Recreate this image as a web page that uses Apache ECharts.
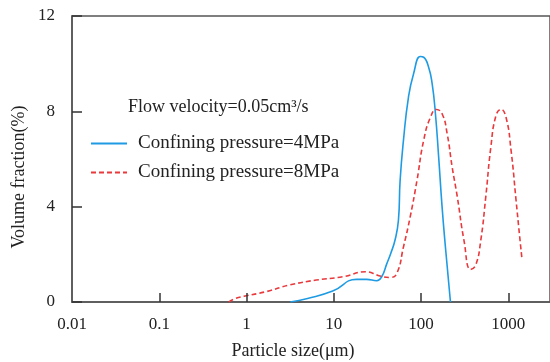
<!DOCTYPE html>
<html>
<head>
<meta charset="utf-8">
<script src="https://cdn.jsdelivr.net/npm/echarts@6/dist/echarts.min.js"></script>
<style>
html,body{margin:0;padding:0;background:#fff;}
#c{width:550px;height:362px;}
</style>
</head>
<body>
<div id="c"></div>
<script>
// Particle size (µm) and volume fraction (%)
const blueX = [3.17, 5, 9.7, 18.2, 23.7, 31.0, 35.4, 40.4, 45, 50.3, 55.0, 57.5, 62.8, 71.7, 81.9, 98, 107, 122, 134, 146, 159, 174, 190, 217];
const blueY = [0, 0.15, 0.46, 0.95, 0.95, 0.89, 1.06, 1.6, 2.05, 2.6, 3.43, 5.1, 6.78, 8.6, 9.57, 10.3, 10.27, 9.85, 9.15, 7.9, 6.08, 3.99, 2.31, 0];
const redX = [0.627, 0.748, 0.933, 1.66, 3.09, 6.28, 12.7, 23.7, 28.3, 33.8, 44.1, 52.7, 62.8, 75.0, 89.7, 107, 128, 150, 174, 199, 227, 260, 310, 370, 423, 483, 551, 630, 721, 822, 940, 1074, 1225, 1337, 1436];
const redY = [0, 0.15, 0.24, 0.43, 0.71, 0.92, 1.06, 1.27, 1.2, 1.09, 1.03, 1.2, 2.31, 3.57, 5.1, 6.78, 7.75, 8.08, 7.9, 7.06, 5.66, 4.41, 2.59, 1.37, 1.55, 2.59, 4.41, 6.5, 7.82, 8.08, 7.75, 6.36, 4.27, 2.87, 1.76];
const xTicks = [0.01, 0.1, 1, 10, 100, 1000];
const yTicks = [0, 4, 8, 12];
const seriesNames = ['Confining pressure=4MPa', 'Confining pressure=8MPa'];
const titleText = 'Flow velocity=0.05cm\u00B3/s';
const xName = 'Particle size(\u03BCm)';
const yName = 'Volume fraction(%)';

const FONT = '"Liberation Serif", "Times New Roman", serif';
const AX = '#555';
const X_MAX = 3000;
const GRID = {left: 72, right: -2, top: 16, bottom: 60};
const PLOT_H = 362 - GRID.top - GRID.bottom;
const Y_MIN = yTicks[0], Y_MAX = yTicks[yTicks.length - 1];
// x tick marks (pointing up, 9px long), expressed in y-axis units
const TICK_LEN = 9 * (Y_MAX - Y_MIN) / PLOT_H;

function isTick(v) {
  return xTicks.some(t => Math.abs(Math.log10(v) - Math.log10(t)) < 1e-6);
}
const chart = echarts.init(document.getElementById('c'), null, {renderer: 'canvas'});
chart.setOption({
  animation: false,
  backgroundColor: '#fff',
  grid: Object.assign({
    show: true, borderColor: AX, borderWidth: 1.5, backgroundColor: 'rgba(0,0,0,0)'
  }, GRID),
  title: {
    text: titleText, left: 128, top: 98, padding: 0,
    textStyle: {fontFamily: FONT, fontSize: 18, fontWeight: 'normal', color: '#222'}
  },
  legend: {
    orient: 'vertical', left: 90, top: 134, padding: 0,
    itemWidth: 36, itemHeight: 14, itemGap: 10,
    itemStyle: {opacity: 0, borderWidth: 0},
    textStyle: {fontFamily: FONT, fontSize: 19, color: '#222', lineHeight: 18, padding: [0, 0, 0, 6]},
    data: seriesNames
  },
  xAxis: {
    type: 'log', min: xTicks[0], max: X_MAX,
    axisLine: {show: true, lineStyle: {color: AX, width: 1.5}},
    axisTick: {show: false},
    axisLabel: {
      show: true, margin: 14, fontFamily: FONT, fontSize: 17, color: '#222',
      showMinLabel: true, showMaxLabel: false,
      formatter: function (v) { return isTick(v) ? String(Number(v.toPrecision(6))) : ''; }
    },
    splitLine: {show: false}
  },
  yAxis: {
    type: 'value', min: Y_MIN, max: Y_MAX, interval: 4,
    axisLine: {show: true, lineStyle: {color: AX, width: 1.5}},
    axisTick: {show: true, inside: true, length: 10, lineStyle: {color: '#333', width: 1.5}},
    axisLabel: {margin: 17, fontFamily: FONT, fontSize: 17, color: '#222'},
    splitLine: {show: false}
  },
  graphic: [
    {type: 'text', x: 19, y: 177, rotation: Math.PI / 2,
     style: {text: yName, fontFamily: FONT, fontSize: 18, fill: '#222', align: 'center', verticalAlign: 'middle'}},
    {type: 'text', x: 293, y: 351,
     style: {text: xName, fontFamily: FONT, fontSize: 18, fill: '#222', align: 'center', verticalAlign: 'middle'}}
  ],
  series: [{
    name: seriesNames[0], type: 'line', symbol: 'none', smooth: 0.5,
    lineStyle: {color: '#1f9be3', width: 1.6},
    itemStyle: {color: '#1f9be3'},
    data: blueX.map((x, i) => [x, blueY[i]]),
    markLine: {
      silent: true, symbol: ['none', 'none'], label: {show: false},
      emphasis: {disabled: true},
      lineStyle: {color: '#333', width: 1.5, type: 'solid'},
      data: xTicks.slice(1).map(t => [{coord: [t, Y_MIN]}, {coord: [t, Y_MIN + TICK_LEN]}])
    }
  }, {
    name: seriesNames[1], type: 'line', symbol: 'none', smooth: 0.5,
    lineStyle: {color: '#e8393d', width: 1.6, type: [5, 3]},
    itemStyle: {color: '#e8393d'},
    data: redX.map((x, i) => [x, redY[i]])
  }]
});
</script>
</body>
</html>
